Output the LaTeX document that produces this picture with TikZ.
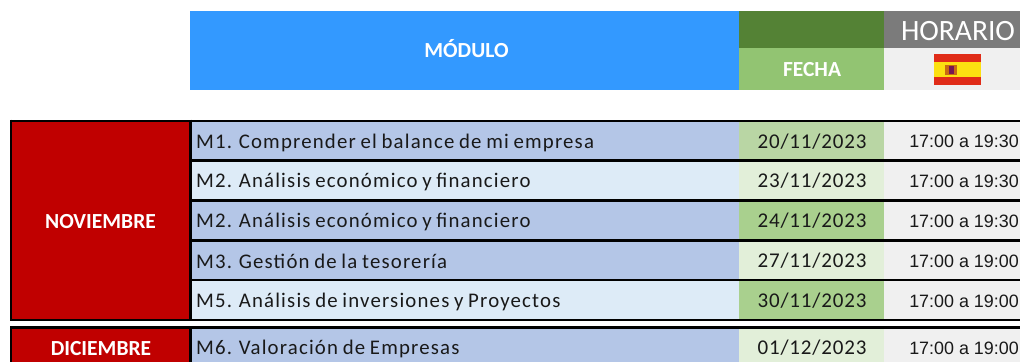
\documentclass[tikz,border=0pt]{standalone}
\usepackage{fontspec}
\setmainfont{Carlito}
\newfontfamily\modfont[LetterSpace=5.7,WordSpace=0.8]{Carlito}
\newfontfamily\datefont[LetterSpace=4]{Carlito}
\newfontfamily\timefont{Liberation Sans}
\definecolor{blueh}{HTML}{3399FF}
\definecolor{greenD}{HTML}{548235}
\definecolor{greenL}{HTML}{92C472}
\definecolor{grayD}{HTML}{7B7B7B}
\definecolor{grayL}{HTML}{F0F0F0}
\definecolor{redM}{HTML}{C00000}
\definecolor{modA}{HTML}{B4C6E7}
\definecolor{modB}{HTML}{DDEBF7}
\definecolor{dateA}{HTML}{B9D6A4}
\definecolor{dateB}{HTML}{E2EFD9}
\definecolor{dateC}{HTML}{A9D08E}
\definecolor{flagR}{HTML}{E02C18}
\definecolor{flagY}{HTML}{FCE011}
\tikzset{
 x=1pt,y=-1pt,
 heading/.style={text=white,inner sep=0pt,font=\fontsize{21.5}{21.5}\selectfont\bfseries},
 modtext/.style={anchor=west,inner sep=0pt,font=\fontsize{20.8}{21}\modfont,text=black!90},
 datetext/.style={anchor=center,inner sep=0pt,font=\fontsize{21}{21}\datefont,text=black!90},
 timetext/.style={anchor=center,inner sep=0pt,font=\fontsize{17.9}{18}\timefont,text=black!90},
 rule/.style={line width=2.4pt,black},
}
\newcommand{\cell}[6]{\fill[#1] (#2,#3) rectangle (#4,#5);\coordinate (#6) at ({(#2+#4)/2},{(#3+#5)/2});}
\begin{document}
\begin{tikzpicture}
\useasboundingbox (0,0) rectangle (1020,362);
\fill[white] (0,0) rectangle (1020,362);
% header
\cell{blueh}{190}{11}{739}{90}{hm}
\cell{greenD}{739}{11}{884}{48}{hf1}
\cell{greenL}{739}{48}{884}{90}{hf}
\cell{grayD}{884}{11}{1020}{48}{hh}
\cell{grayL}{884}{48}{1020}{90}{hflag}
\node[heading] (tm) at (466.5,48.5) {MÓDULO};
\node[heading] (tf) at (812,69.5) {FECHA};
\node[text=white,inner sep=0pt,font=\fontsize{29.5}{30}\selectfont] (th) at (958,31.5) {HORARIO};
% flag
\fill[flagR] (934,54) rectangle (981,85);
\fill[flagY] (934,62) rectangle (981,77);
\fill[flagR!55!flagY!85!black] (945,65) rectangle (957,75);
\fill[flagR!65!blue!80!black] (948.5,66) rectangle (953.5,74);
% left month cells
\cell{redM}{11}{121}{190}{320}{nov}
\cell{redM}{11}{327}{190}{362}{dic}
\node[heading] (tnov) at (100.5,222) {NOVIEMBRE};
\node[heading] (tdic) at (101,348.5) {DICIEMBRE};
% rows
\cell{modA}{190}{121}{739}{160}{m1}
\cell{modB}{190}{160}{739}{200}{m2}
\cell{modA}{190}{200}{739}{240}{m3}
\cell{modA}{190}{240}{739}{280}{m4}
\cell{modB}{190}{280}{739}{320}{m5}
\cell{modA}{190}{327}{739}{362}{m6}
\cell{dateA}{739}{121}{884}{160}{d1}
\cell{dateB}{739}{160}{884}{200}{d2}
\cell{dateC}{739}{200}{884}{240}{d3}
\cell{dateB}{739}{240}{884}{280}{d4}
\cell{dateC}{739}{280}{884}{320}{d5}
\cell{dateB}{739}{327}{884}{362}{d6}
\fill[grayL] (884,121) rectangle (1020,320);
\fill[grayL] (884,327) rectangle (1020,362);
% rules
\foreach \y in {120.7,320,327.3}{\draw[rule] (11,\y) -- (1020,\y);}
\foreach \y in {160.3,200.3,240.3,280}{\draw[rule] (190,\y) -- (1020,\y);}
\draw[rule] (11,119.5) -- (11,321.2);
\draw[rule] (190.5,119.5) -- (190.5,321.2);
\draw[rule] (11,326.1) -- (11,362);
\draw[rule] (190.5,326.1) -- (190.5,362);
% texts
\node[modtext] (t1) at (196,142.5) {M1. Comprender el balance de mi empresa};
\node[modtext] (t2) at (196,182) {M2. Análisis económico y financiero};
\node[modtext] (t3) at (196,222) {M2. Análisis económico y financiero};
\node[modtext] (t4) at (196,261) {M3. Gestión de la tesorería};
\node[modtext] (t5) at (196,301.5) {M5. Análisis de inversiones y Proyectos};
\node[modtext] (t6) at (196,349) {M6. Valoración de Empresas};
\node[datetext] (a1) at (812,141.5) {20/11/2023};
\node[datetext] (a2) at (812,181) {23/11/2023};
\node[datetext] (a3) at (812,221) {24/11/2023};
\node[datetext] (a4) at (812,260.5) {27/11/2023};
\node[datetext] (a5) at (812,300.5) {30/11/2023};
\node[datetext] (a6) at (812,348) {01/12/2023};
\node[timetext] (h1) at (964,141.5) {17:00 a 19:30};
\node[timetext] (h2) at (964,181.5) {17:00 a 19:30};
\node[timetext] (h3) at (964,221.5) {17:00 a 19:30};
\node[timetext] (h4) at (964,261) {17:00 a 19:00};
\node[timetext] (h5) at (964,301) {17:00 a 19:00};
\node[timetext] (h6) at (964,348.5) {17:00 a 19:00};
\end{tikzpicture}
\end{document}
